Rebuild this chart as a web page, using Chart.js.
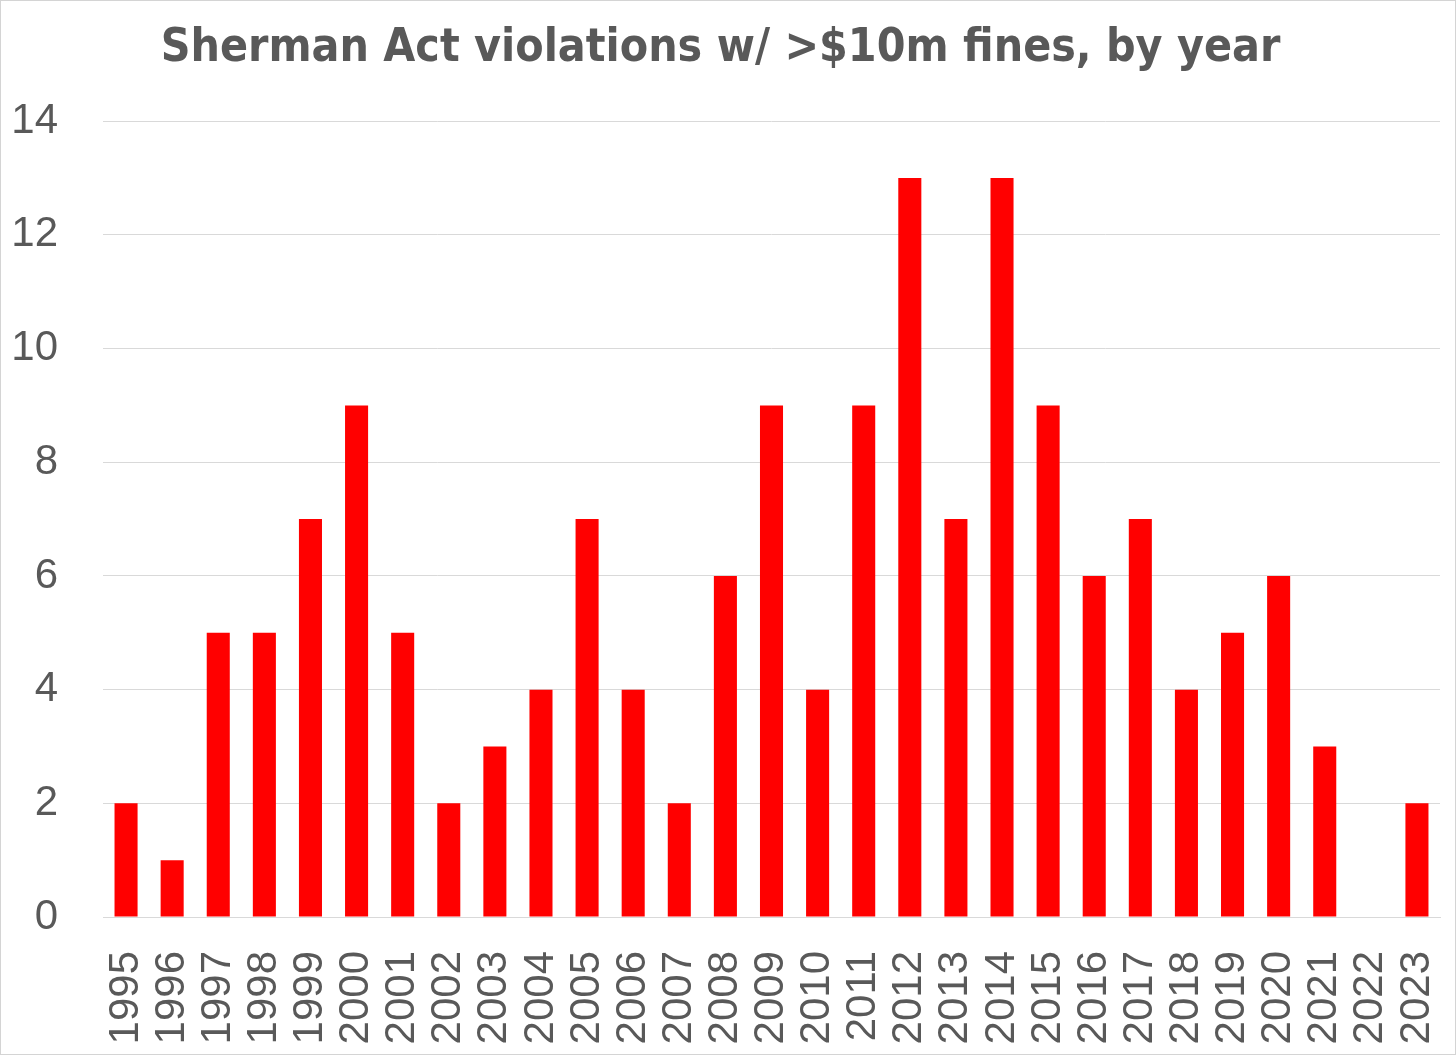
<!DOCTYPE html>
<html lang="en">
<head>
  <meta charset="UTF-8" />
  <title>Sherman Act violations</title>
  <script src="https://cdn.jsdelivr.net/npm/chart.js"></script>
  <style>
    html, body {
      margin: 0;
      padding: 0;
      background: #ffffff;
    }
    .frame {
      box-sizing: border-box;
      width: 1456px;
      height: 1055px;
      border: 1px solid #d4d4d4;
    }
    .frame canvas {
      display: block;
    }
  </style>
</head>
<body>
  <div class="frame">
    <canvas id="chart" width="1454" height="1053"></canvas>
  </div>

  <script>
    const years = [
      '1995', '1996', '1997', '1998', '1999', '2000', '2001', '2002', '2003', '2004',
      '2005', '2006', '2007', '2008', '2009', '2010', '2011', '2012', '2013', '2014',
      '2015', '2016', '2017', '2018', '2019', '2020', '2021', '2022', '2023'
    ];
    const violations = [
      2, 1, 5, 5, 7, 9, 5, 2, 3, 4,
      7, 4, 2, 6, 9, 4, 9, 13, 7, 13,
      9, 6, 7, 4, 5, 6, 3, 0, 2
    ];
    const yMin = 0;
    const yMax = 14;
    const yStep = 2;
    const titleText = 'Sherman Act violations w/ >$10m fines, by year';

    const textGray = '#595959';
    const gridGray = '#d9d9d9';

    new Chart(document.getElementById('chart'), {
      type: 'bar',
      data: {
        labels: years,
        datasets: [{
          data: violations,
          backgroundColor: '#ff0000',
          borderWidth: 0,
          barPercentage: 0.5,
          categoryPercentage: 1.0
        }]
      },
      options: {
        responsive: false,
        animation: false,
        layout: { padding: { left: 0, right: 15, top: 0, bottom: 0 } },
        plugins: {
          legend: { display: false },
          tooltip: { enabled: false },
          title: {
            display: true,
            text: titleText,
            color: textGray,
            font: { family: "'DejaVu Sans Condensed', Roboto, sans-serif", size: 46, weight: 'bold', lineHeight: 1.2 },
            padding: { top: 20, bottom: 45 }
          }
        },
        scales: {
          x: {
            grid: { display: false, drawTicks: false },
            border: { display: true, color: gridGray, width: 1 },
            ticks: {
              color: textGray,
              font: { family: "'Liberation Sans', Arial, sans-serif", size: 42 },
              minRotation: 90,
              maxRotation: 90,
              autoSkip: false,
              padding: 34
            },
            afterFit: scale => {
              scale.height = 137;
              scale.paddingLeft = 0;
              scale.paddingRight = 0;
            }
          },
          y: {
            min: yMin,
            max: yMax,
            grid: { color: gridGray, lineWidth: 1, drawTicks: false },
            border: { display: false },
            ticks: {
              stepSize: yStep,
              color: textGray,
              font: { family: "'Liberation Sans', Arial, sans-serif", size: 42 },
              padding: 45
            },
            afterFit: scale => { scale.width = 102; }
          }
        }
      }
    });
  </script>
</body>
</html>
